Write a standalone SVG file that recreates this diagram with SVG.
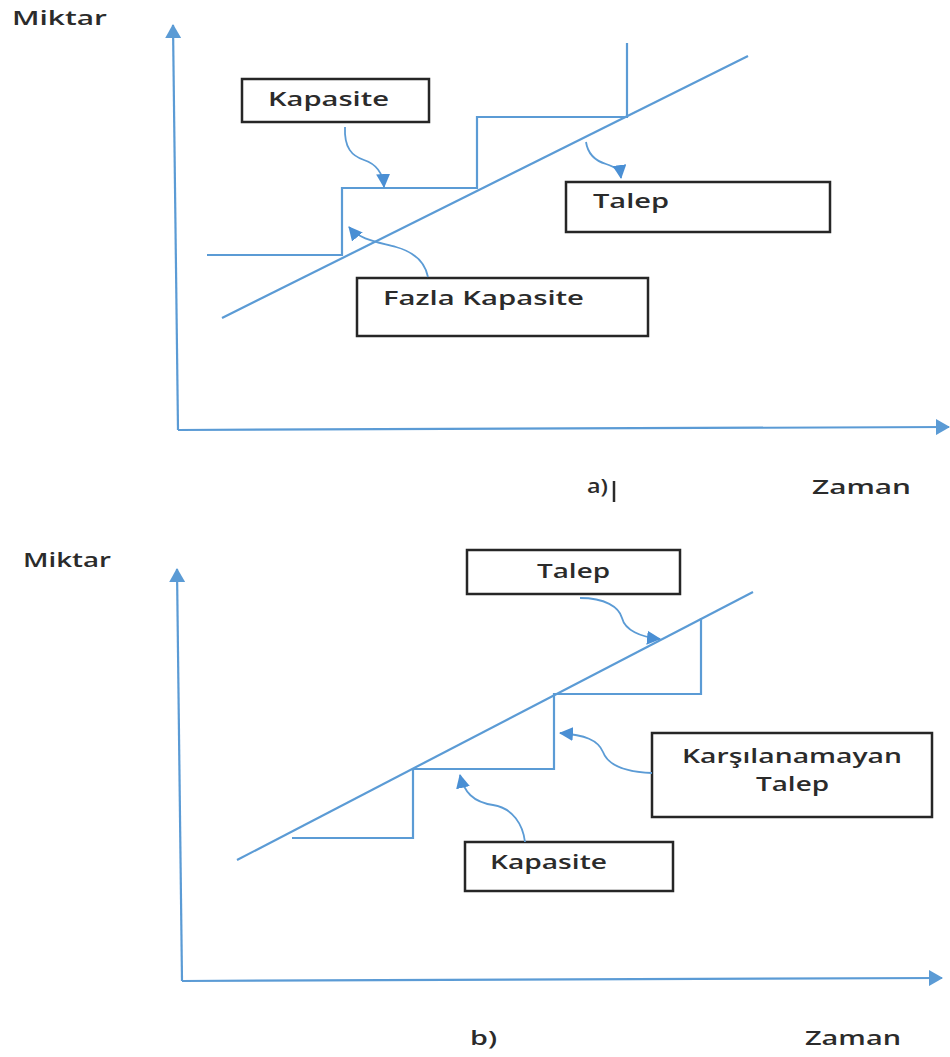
<svg xmlns="http://www.w3.org/2000/svg" width="950" height="1057" viewBox="0 0 950 1057">
  <style>
    .axis { fill: none; stroke: #5b9bd5; stroke-width: 2.2; }
    .curve { fill: none; stroke: #5b9bd5; stroke-width: 2.2; }
    .step { fill: none; stroke: #5b9bd5; stroke-width: 2.2; stroke-linejoin: miter; }
    .lead { fill: none; stroke: #5b9bd5; stroke-width: 1.8; }
    .box { fill: #ffffff; stroke: #262626; stroke-width: 2.5; }
    .lbl { font-family: "Open Sans", "Liberation Sans", sans-serif; font-weight: 600; font-size: 20px; fill: #2b2b2b; }
  </style>
  <defs>
    <marker id="axisHead" viewBox="0 0 14 16" refX="13" refY="8" markerWidth="14" markerHeight="16" markerUnits="userSpaceOnUse" orient="auto">
      <path d="M0,0 L14,8 L0,16 Z" fill="#5b9bd5"/>
    </marker>
    <marker id="leadHead" viewBox="0 0 14 14" refX="13" refY="7" markerWidth="14" markerHeight="14" markerUnits="userSpaceOnUse" orient="auto">
      <path d="M0,0 L14,7 L0,14 Z" fill="#4a8fd4"/>
    </marker>
  </defs>
  <rect width="950" height="1057" fill="#ffffff"/>

  <!-- Panel a -->
  <g id="panel-a">
    <g id="a-axes">
      <path class="axis" d="M178,430 L173,25" marker-end="url(#axisHead)"/>
      <path class="axis" d="M178,430 L949,427" marker-end="url(#axisHead)"/>
    </g>
    <g id="a-demand">
      <path class="curve" d="M222,318 L748,56"/>
    </g>
    <g id="a-capacity">
      <path class="step" d="M207,255 L342,255 L342,188 L477,188 L477,117 L627,117 L627,43"/>
    </g>
    <g id="a-kapasite">
      <rect class="box" x="242" y="79" width="187" height="43"/>
      <text class="lbl" x="268" y="106" textLength="121" lengthAdjust="spacingAndGlyphs">Kapasite</text>
    </g>
    <g id="a-talep">
      <rect class="box" x="566" y="182" width="264" height="50"/>
      <text class="lbl" x="593" y="208" textLength="76" lengthAdjust="spacingAndGlyphs">Talep</text>
    </g>
    <g id="a-fazla">
      <rect class="box" x="357" y="278" width="291" height="58"/>
      <text class="lbl" x="383" y="305" textLength="201" lengthAdjust="spacingAndGlyphs">Fazla Kapasite</text>
    </g>
    <g id="a-leaders">
      <path class="lead" d="M345,127 C344,148 352,156 364,160 C376,164 383,172 384,187" marker-end="url(#leadHead)"/>
      <path class="lead" d="M428,277 C425,262 414,252 396,247 C378,242 360,240 349,227" marker-end="url(#leadHead)"/>
      <path class="lead" d="M586,142 C588,155 596,161 606,164 C615,167 620,170 621,178" marker-end="url(#leadHead)"/>
    </g>
    <text class="lbl" x="587" y="493" textLength="21" lengthAdjust="spacingAndGlyphs">a)</text>
    <line x1="614" y1="481" x2="614" y2="502" stroke="#2b2b2b" stroke-width="2.5"/>
    <text class="lbl" x="812" y="494" textLength="99" lengthAdjust="spacingAndGlyphs">Zaman</text>
    <text class="lbl" x="12" y="25" textLength="95" lengthAdjust="spacingAndGlyphs">Miktar</text>
  </g>

  <!-- Panel b -->
  <g id="panel-b">
    <g id="b-axes">
      <path class="axis" d="M182,981 L177,569" marker-end="url(#axisHead)"/>
      <path class="axis" d="M182,981 L942,978" marker-end="url(#axisHead)"/>
    </g>
    <g id="b-demand">
      <path class="curve" d="M237,860 L753,592"/>
    </g>
    <g id="b-capacity">
      <path class="step" d="M292,838 L413,838 L413,769 L554,769 L554,694 L701,694 L701,618"/>
    </g>
    <g id="b-talep">
      <rect class="box" x="467" y="550" width="213" height="44"/>
      <text class="lbl" x="537" y="578" textLength="73" lengthAdjust="spacingAndGlyphs">Talep</text>
    </g>
    <g id="b-karsilanamayan">
      <rect class="box" x="652" y="733" width="280" height="84"/>
      <text class="lbl" x="682" y="763" textLength="220" lengthAdjust="spacingAndGlyphs">Karşılanamayan</text>
      <text class="lbl" x="756" y="791" textLength="73" lengthAdjust="spacingAndGlyphs">Talep</text>
    </g>
    <g id="b-kapasite">
      <rect class="box" x="465" y="842" width="208" height="49"/>
      <text class="lbl" x="490" y="869" textLength="117" lengthAdjust="spacingAndGlyphs">Kapasite</text>
    </g>
    <g id="b-leaders">
      <path class="lead" d="M580,598 C605,598 619,607 622,618 C625,630 640,637 660,639" marker-end="url(#leadHead)"/>
      <path class="lead" d="M652,773 C625,772 608,765 603,752 C598,740 585,735 560,733" marker-end="url(#leadHead)"/>
      <path class="lead" d="M525,842 C523,825 513,808 493,805 C473,802 464,792 460,775" marker-end="url(#leadHead)"/>
    </g>
    <text class="lbl" x="470" y="1045" textLength="27" lengthAdjust="spacingAndGlyphs">b)</text>
    <text class="lbl" x="805" y="1045" textLength="96" lengthAdjust="spacingAndGlyphs">Zaman</text>
    <text class="lbl" x="23" y="567" textLength="88" lengthAdjust="spacingAndGlyphs">Miktar</text>
  </g>
</svg>
